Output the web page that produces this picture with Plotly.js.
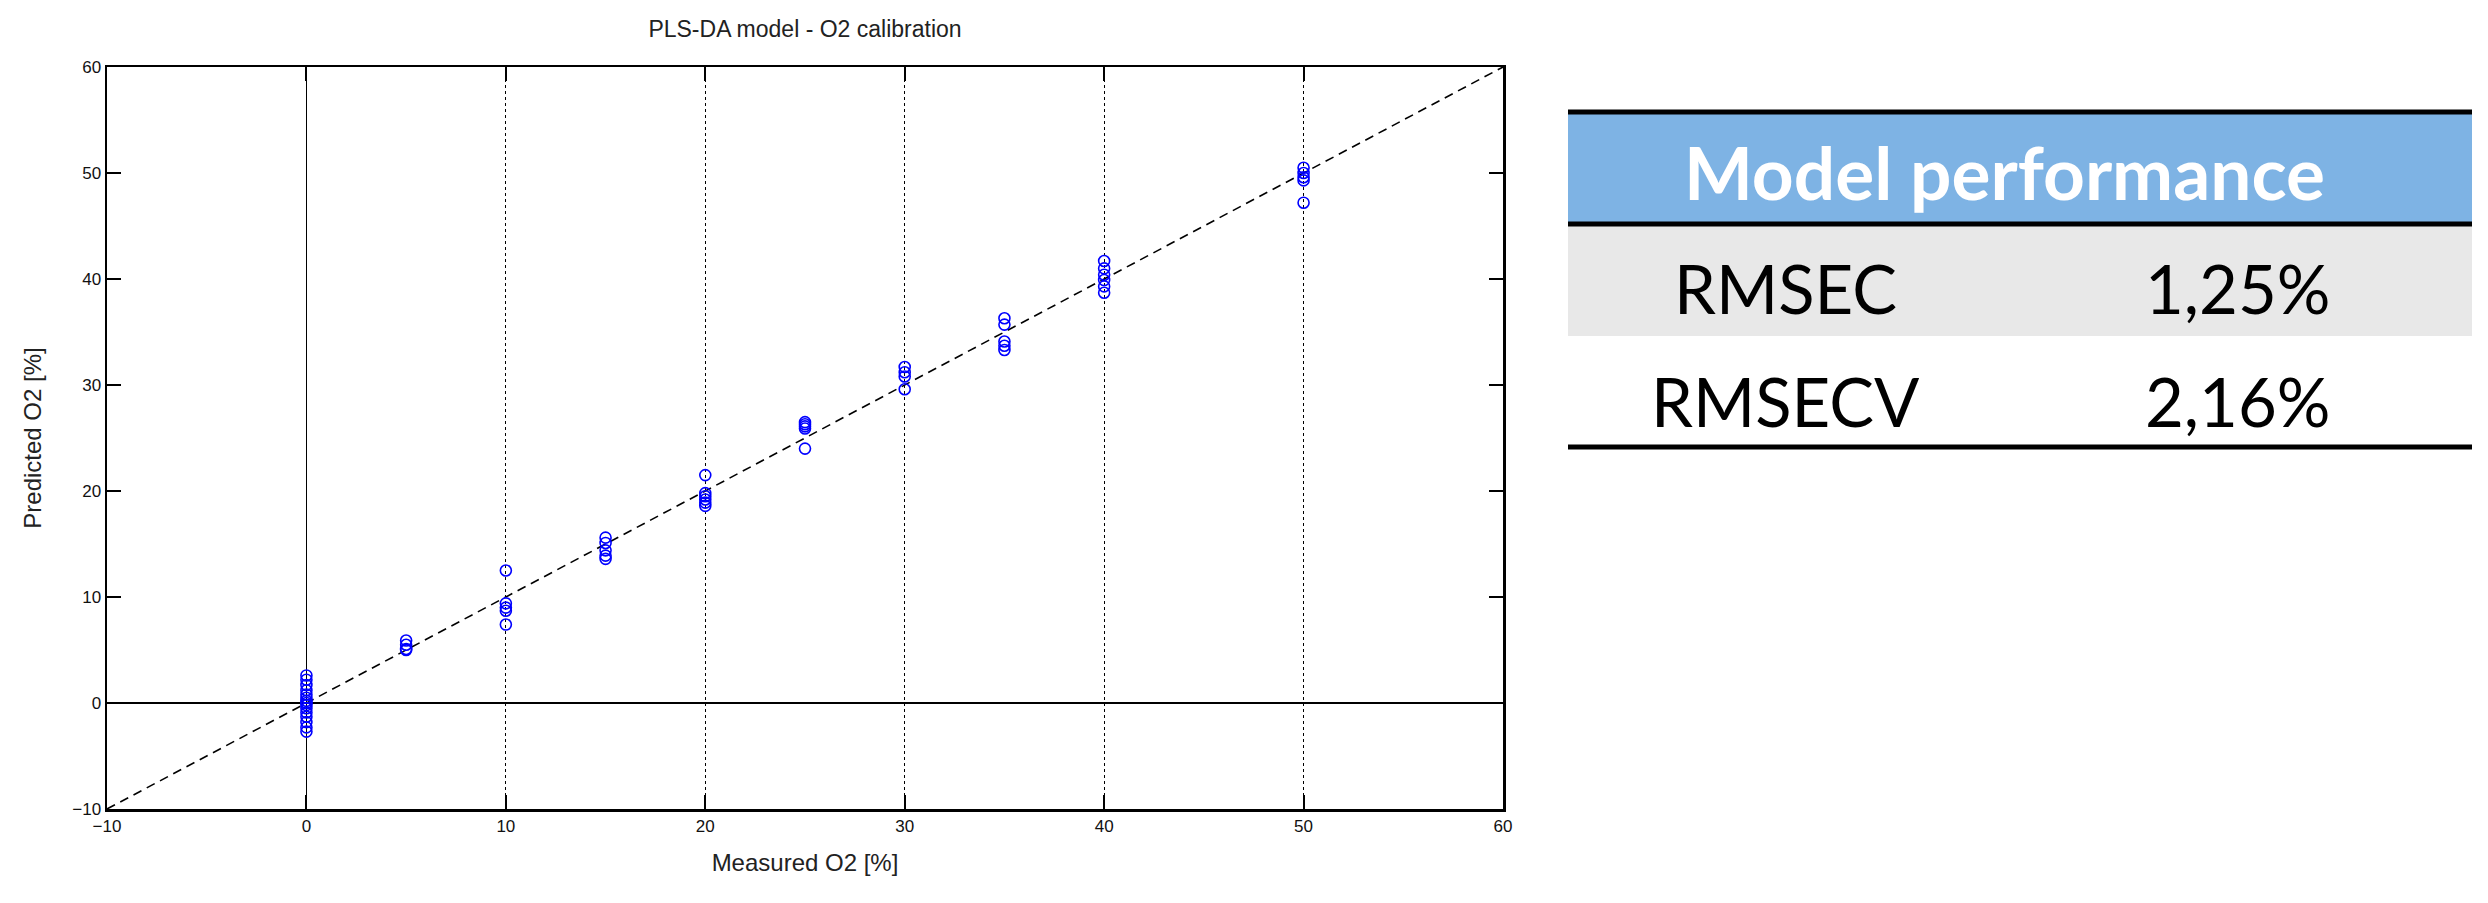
<!DOCTYPE html>
<html>
<head>
<meta charset="utf-8">
<script src="https://cdn.plot.ly/plotly-3.0.1.min.js"></script>
<style>
  html, body { margin: 0; padding: 0; background: #fff; }
  #chart { width: 2488px; height: 903px; }
</style>
</head>
<body>
<div id="chart"></div>
<script>
// measured O2 levels and predicted values at each level
let levels = [0, 5, 10, 15, 20, 25, 30, 35, 40, 50];
let pred0  = [2.6, 2.2, 1.7, 1.2, 0.8, 0.5, 0.2, 0.0, -0.2, -0.5, -0.9, -1.3, -1.8, -2.3, -2.7];
let pred5  = [5.9, 5.5, 5.1, 5.0];
let pred10 = [12.5, 9.4, 9.0, 8.7, 7.4];
let pred15 = [15.6, 15.1, 14.4, 13.9, 13.6];
let pred20 = [21.5, 19.8, 19.5, 19.2, 18.9, 18.6];
let pred25 = [26.5, 26.3, 26.1, 25.9, 24.0];
let pred30 = [31.7, 31.2, 30.8, 29.6];
let pred35 = [36.3, 35.7, 34.1, 33.7, 33.3];
let pred40 = [41.7, 41.0, 40.4, 39.9, 39.3, 38.7];
let pred50 = [50.5, 50.0, 49.6, 49.3, 47.2];

// target line y = x
let refLine = [-10, 60];

let axisTicks = [-10, 0, 10, 20, 30, 40, 50, 60];

// table on the right
let tableTitle = 'Model performance';
let metricNames = ['RMSEC', 'RMSECV'];
let metricValues = ['1,25%', '2,16%'];

let groups = [pred0, pred5, pred10, pred15, pred20, pred25, pred30, pred35, pred40, pred50];
let measured = [];
let predicted = [];
groups.forEach((g, i) => {
    g.forEach(v => {
        measured.push(levels[i]);
        predicted.push(v);
    });
});

// plot area in pixels
const W = 2488, H = 903;
const L = 107, R = 1503, T = 67, B = 809;
// pixel -> paper coordinates
function px(x) { return (x - L) / (R - L); }
function py(y) { return (B - y) / (B - T); }

let plotFont = '"Liberation Sans", Arial, sans-serif';
let tableFont = 'Lato, "Open Sans", sans-serif';

let points = {
    x: measured,
    y: predicted,
    type: 'scatter',
    mode: 'markers',
    marker: {
        symbol: 'circle-open',
        size: 11,
        color: '#0000ff',
        line: {width: 1.6, color: '#0000ff'}
    },
    hoverinfo: 'x+y'
};

let diag = {
    x: refLine,
    y: refLine,
    type: 'scatter',
    mode: 'lines',
    line: {color: '#000', width: 1.6, dash: '9px,6px'},
    hoverinfo: 'skip'
};

let shapes = [];
let annotations = [];
let tx0 = px(1568), tx1 = px(2472);
let rowEdges = [112, 224, 336, 447];
// header fill, grey row
shapes.push({type: 'rect', xref: 'paper', yref: 'paper', x0: tx0, x1: tx1,
    y0: py(rowEdges[1]), y1: py(rowEdges[0]), fillcolor: '#7eb3e4', line: {width: 0}, layer: 'below'});
shapes.push({type: 'rect', xref: 'paper', yref: 'paper', x0: tx0, x1: tx1,
    y0: py(rowEdges[2]), y1: py(rowEdges[1]), fillcolor: '#e8e8e8', line: {width: 0}, layer: 'below'});
// thick rules
[rowEdges[0], rowEdges[1], rowEdges[3]].forEach(y => {
    shapes.push({type: 'line', xref: 'paper', yref: 'paper', x0: tx0, x1: tx1,
        y0: py(y), y1: py(y), line: {color: '#000', width: 5}});
});

annotations.push({xref: 'paper', yref: 'paper', x: px(2004), y: py(172),
    text: '<b>' + tableTitle + '</b>', showarrow: false, xanchor: 'center', yanchor: 'middle',
    font: {family: tableFont, size: 73, color: '#fff'}});
metricNames.forEach((name, i) => {
    let yc = [288, 401][i];
    annotations.push({xref: 'paper', yref: 'paper', x: px(1785), y: py(yc),
        text: name, showarrow: false, xanchor: 'center', yanchor: 'middle',
        font: {family: tableFont, size: 67, color: '#000'}});
    annotations.push({xref: 'paper', yref: 'paper', x: px(2238), y: py(yc),
        text: metricValues[i], showarrow: false, xanchor: 'center', yanchor: 'middle',
        font: {family: tableFont, size: 67, color: '#000'}});
});

let axisCommon = {
    range: [-10, 60],
    tickvals: axisTicks,
    ticks: 'inside',
    ticklen: 14,
    tickwidth: 2,
    tickcolor: '#000',
    showline: true,
    linecolor: '#000',
    linewidth: 2.5,
    mirror: 'ticks',
    zeroline: true,
    zerolinecolor: '#000',
    zerolinewidth: 1.6,
    tickfont: {family: plotFont, size: 17, color: '#111'},
    fixedrange: true
};

let layout = {
    width: W,
    height: H,
    margin: {l: L, r: W - R, t: T, b: H - B, pad: 0},
    paper_bgcolor: '#fff',
    plot_bgcolor: '#fff',
    showlegend: false,
    title: {
        text: 'PLS-DA model - O2 calibration',
        font: {family: plotFont, size: 23, color: '#222'},
        x: 0.5, xref: 'paper', xanchor: 'center',
        y: 1 - 29 / H, yref: 'container', yanchor: 'middle'
    },
    xaxis: Object.assign({}, axisCommon, {
        showgrid: true,
        gridcolor: '#000',
        gridwidth: 1.2,
        griddash: 'dot',
        title: {text: 'Measured O2 [%]', font: {family: plotFont, size: 24, color: '#222'}, standoff: 20}
    }),
    yaxis: Object.assign({}, axisCommon, {
        showgrid: false,
        title: {text: 'Predicted O2 [%]', font: {family: plotFont, size: 24, color: '#222'}, standoff: 24}
    }),
    shapes: shapes,
    annotations: annotations
};

Plotly.newPlot('chart', [diag, points], layout, {displayModeBar: false, staticPlot: true});
</script>
</body>
</html>
